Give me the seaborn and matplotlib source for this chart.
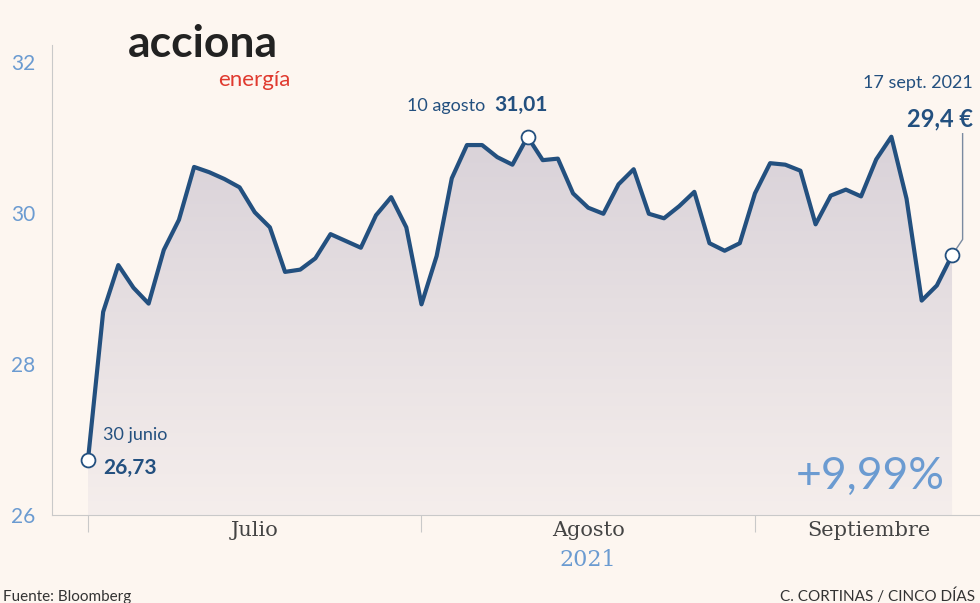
import numpy as np
import pandas as pd
import matplotlib
matplotlib.use("Agg")
import matplotlib.pyplot as plt
import seaborn as sns
from matplotlib.patches import Polygon

prices = [26.73, 28.69, 29.31, 29.01, 28.80, 29.51, 29.91, 30.61, 30.54, 30.45,
          30.34, 30.01, 29.81, 29.22, 29.25, 29.40, 29.72, 29.63, 29.54, 29.97,
          30.21, 29.81, 28.79, 29.43, 30.46, 30.90, 30.90, 30.74, 30.64, 31.01,
          30.70, 30.72, 30.26, 30.07, 29.99, 30.38, 30.58, 29.99, 29.93, 30.09,
          30.28, 29.60, 29.50, 29.60, 30.26, 30.66, 30.64, 30.56, 29.85, 30.23,
          30.31, 30.22, 30.71, 31.01, 30.19, 28.84, 29.04, 29.44]
months = ["Julio", "Agosto", "Septiembre"]
month_ticks = [0, 22, 44]
month_centers = [11, 33, 51.5]
yticks = [26, 28, 30, 32]

BG = "#fdf6f0"
LINE = "#23507f"
TXT = "#23507f"
LIGHT = "#6b9bd1"

df = pd.DataFrame({"i": np.arange(len(prices)), "p": prices})
fig = plt.figure(figsize=(9.8, 6.03), dpi=100, facecolor=BG)
ax = fig.add_axes([52/980, (603-515)/603, 1-52/980, (515-45)/603])
ax.set_facecolor(BG)
xmin, xmax = -36/15.16, 57 + 28/15.16
ymin, ymax = 26, 32 + 17/75.5
ax.set_xlim(xmin, xmax); ax.set_ylim(ymin, ymax)

grad = np.linspace(0, 1, 256).reshape(-1, 1)
cmap = matplotlib.colors.LinearSegmentedColormap.from_list("g", ["#f5eeec", "#d8d1d8"])
im = ax.imshow(grad, extent=[0, 57, 26, 31.2], origin="lower", aspect="auto", cmap=cmap, zorder=1)
poly = Polygon(list(zip(df.i, df.p)) + [(57, 26), (0, 26)], closed=True, transform=ax.transData)
im.set_clip_path(poly)

sns.lineplot(data=df, x="i", y="p", ax=ax, color=LINE, lw=3, zorder=3)
for k in [0, 29, 57]:
    ax.plot(df.i[k], df.p[k], "o", ms=10, mfc="white", mec=LINE, mew=1.3, zorder=5)

for s in ["top", "right"]:
    ax.spines[s].set_visible(False)
ax.spines["left"].set_color("#c9c9c9")
ax.spines["bottom"].set_color("#c9c9c9")
ax.set_yticks(yticks)
ax.set_yticklabels([str(v) for v in yticks], color=LIGHT, fontsize=15, fontfamily="Lato")
ax.tick_params(axis="y", length=0, pad=12)
ax.set_xticks(month_ticks)
ax.set_xticklabels([])
ax.tick_params(axis="x", length=12, color="#c9c9c9", direction="out")
ax.set_xlabel(""); ax.set_ylabel("")
for c, m in zip(month_centers, months):
    ax.text(c, 25.79, m, ha="center", va="center", fontsize=15, family="DejaVu Serif", color="#444444")
ax.text(33, 25.4, "2021", ha="center", va="center", fontsize=16, family="DejaVu Serif", color=LIGHT, clip_on=False)

ax.text(1, 27.0, "30 junio", fontsize=13, color=TXT, family="Lato")
ax.text(1, 26.55, "26,73", fontsize=15, color=TXT, family="Lato", weight="bold")
ax.text(26.2, 31.35, "10 agosto", fontsize=13, color=TXT, family="Lato", ha="right")
ax.text(26.8, 31.35, "31,01", fontsize=15, color=TXT, family="Lato", weight="bold")
ax.text(58.4, 31.65, "17 sept. 2021", fontsize=13, color=TXT, family="Lato", ha="right")
ax.text(58.4, 31.15, "29,4 €", fontsize=17, color=TXT, family="Lato", weight="bold", ha="right")
ax.plot([57, 57.7, 57.7], [29.44, 29.65, 31.05], color="#7a8aa0", lw=1, zorder=4)
ax.text(56.5, 26.35, "+9,99%", fontsize=32, color=LIGHT, family="Lato", ha="right")

fig.text(128/980, 1-44/603, "acciona", fontsize=32, weight="bold", color="#222222", family="Lato", va="center")
fig.text(290/980, 1-80/603, "energía", fontsize=16, color="#e03a2f", family="Lato", ha="right", va="center")
fig.text(0.003, 0.004, "Fuente: Bloomberg", fontsize=11, color="#333333", family="Lato")
fig.text(0.995, 0.004, "C. CORTINAS / CINCO DÍAS", fontsize=11, color="#333333", family="Lato", ha="right")
fig.savefig("out.png", dpi=100, facecolor=BG)
